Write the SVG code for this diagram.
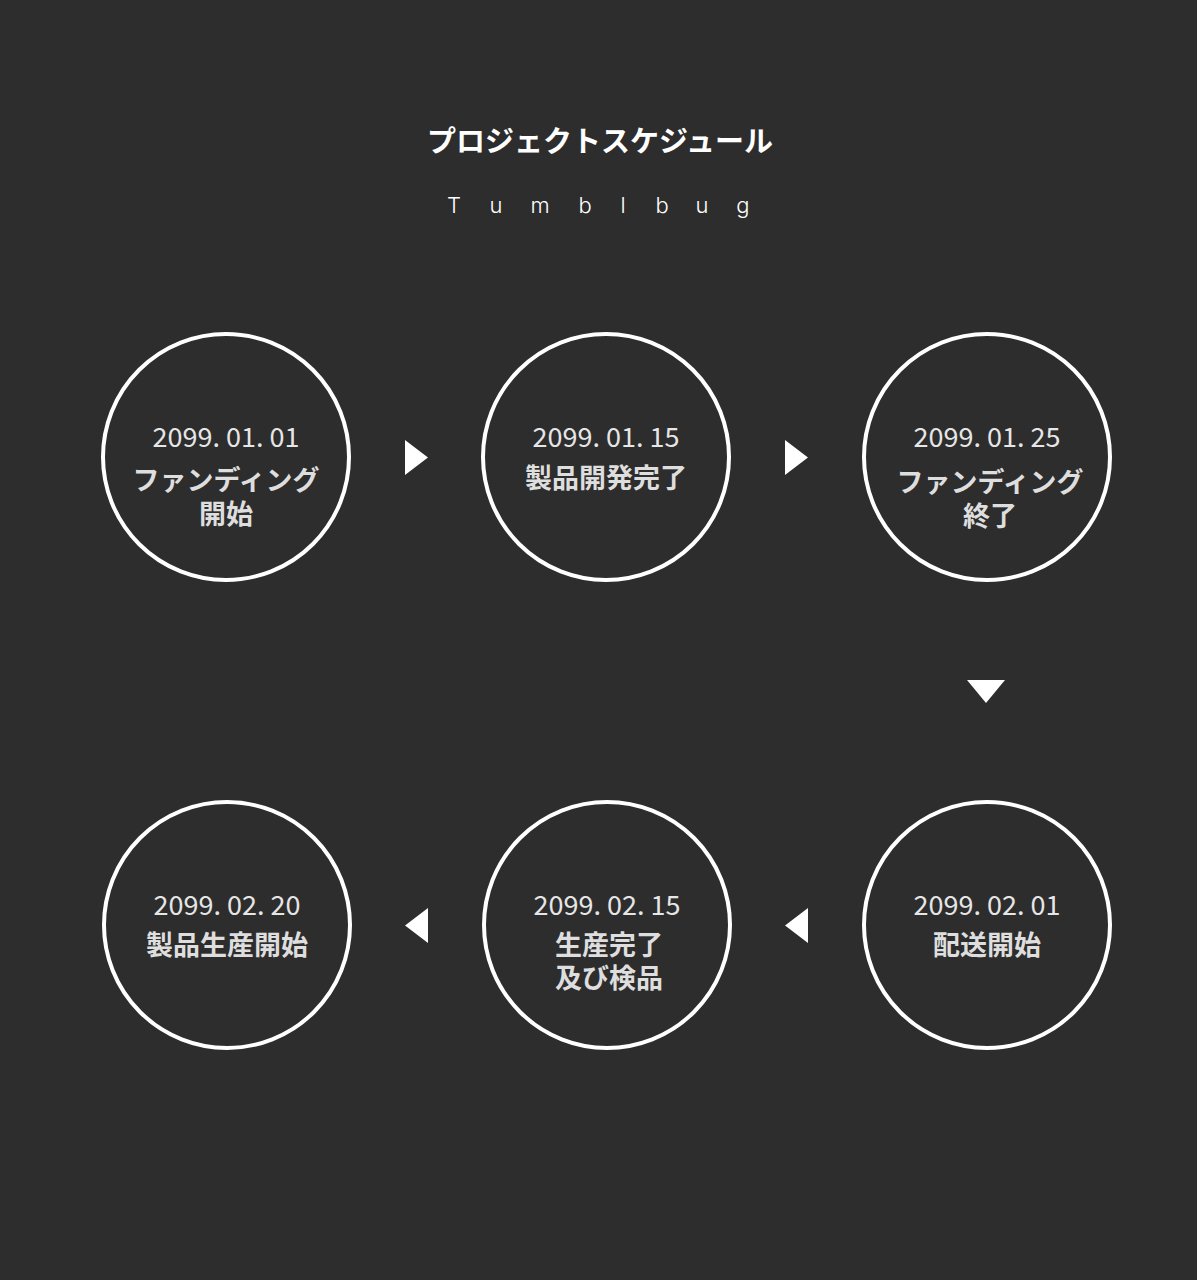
<svg xmlns="http://www.w3.org/2000/svg" width="1197" height="1280" viewBox="0 0 1197 1280">
<style>
.bg{fill:#2d2d2d}
.ring{fill:none;stroke:#ffffff;stroke-width:4}
.date{font-family:"Noto Sans CJK JP","Noto Sans",sans-serif;font-size:27px;font-weight:400;fill:#e6e6e6;text-anchor:middle}
.lab{font-family:"Noto Sans CJK JP",sans-serif;font-size:27px;font-weight:700;fill:#dedede;text-anchor:middle}
.title{font-family:"Noto Sans CJK JP",sans-serif;font-size:29px;font-weight:700;fill:#ffffff;text-anchor:middle}
.sub{font-family:Inter,"Noto Sans",sans-serif;font-size:22px;font-weight:300;fill:#ffffff;text-anchor:middle}
.arr{fill:#ffffff}
</style>
<rect class="bg" x="0" y="0" width="1197" height="1280"/>
<g id="title">
<text class="title" x="600" y="152">プロジェクトスケジュール</text>
<text class="sub" x="454 496 540 585 623 662 702 743" y="213">Tumblbug</text>
</g>
<g id="node1">
<circle class="ring" cx="226" cy="457" r="123"/>
<text class="date" x="226" y="447">2099. 01. 01</text>
<text class="lab" x="226" y="490">ファンディング</text>
<text class="lab" x="226" y="524">開始</text>
</g>
<g id="node2">
<circle class="ring" cx="606" cy="457" r="123"/>
<text class="date" x="606" y="447">2099. 01. 15</text>
<text class="lab" x="606" y="488">製品開発完了</text>
</g>
<g id="node3">
<circle class="ring" cx="987" cy="457" r="123"/>
<text class="date" x="987" y="447">2099. 01. 25</text>
<text class="lab" x="990" y="492">ファンディング</text>
<text class="lab" x="990" y="526">終了</text>
</g>
<g id="node4">
<circle class="ring" cx="987" cy="925" r="123"/>
<text class="date" x="987" y="915">2099. 02. 01</text>
<text class="lab" x="987" y="955">配送開始</text>
</g>
<g id="node5">
<circle class="ring" cx="607" cy="925" r="123"/>
<text class="date" x="607" y="915">2099. 02. 15</text>
<text class="lab" x="609" y="955">生産完了</text>
<text class="lab" x="609" y="988">及び検品</text>
</g>
<g id="node6">
<circle class="ring" cx="227" cy="925" r="123"/>
<text class="date" x="227" y="915">2099. 02. 20</text>
<text class="lab" x="227" y="955">製品生産開始</text>
</g>
<g id="connectors">
<polygon class="arr" points="405,440 428,457.5 405,475"/>
<polygon class="arr" points="785,440 808,457.5 785,475"/>
<polygon class="arr" points="967,680 1005,680 986,703"/>
<polygon class="arr" points="808,908 785,925.5 808,943"/>
<polygon class="arr" points="428,908 405,925.5 428,943"/>
</g>
</svg>
